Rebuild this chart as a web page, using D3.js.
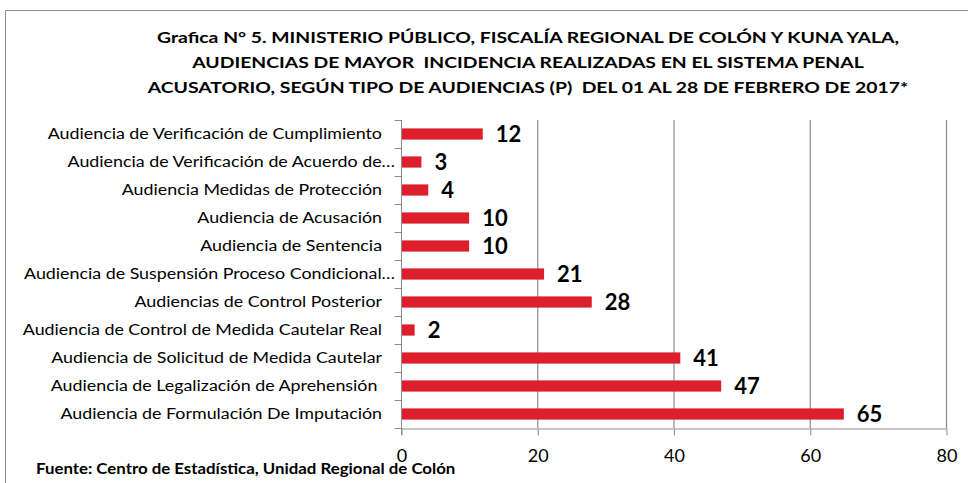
<!DOCTYPE html>
<html><head><meta charset="utf-8">
<script src="https://cdn.jsdelivr.net/npm/d3@7"></script>
<style>body{margin:0;background:#fff}svg{display:block}</style>
</head><body>
<svg id="c" width="968" height="483"></svg>
<script>
const categories = [
  "Audiencia de Verificación de Cumplimiento",
  "Audiencia de Verificación de Acuerdo de…",
  "Audiencia Medidas de Protección",
  "Audiencia de Acusación",
  "Audiencia de Sentencia",
  "Audiencia de Suspensión Proceso Condicional…",
  "Audiencias de Control Posterior",
  "Audiencia de Control de Medida Cautelar Real",
  "Audiencia de Solicitud de Medida Cautelar",
  "Audiencia de Legalización de Aprehensión ",
  "Audiencia de Formulación De Imputación"
];
const values = [12, 3, 4, 10, 10, 21, 28, 2, 41, 47, 65];
const xTicks = [0, 20, 40, 60, 80];
const titleLines = [
  "Grafica N° 5. MINISTERIO PÚBLICO, FISCALÍA REGIONAL DE COLÓN Y KUNA YALA,",
  "AUDIENCIAS DE MAYOR  INCIDENCIA REALIZADAS EN EL SISTEMA PENAL",
  "ACUSATORIO, SEGÚN TIPO DE AUDIENCIAS (P)  DEL 01 AL 28 DE FEBRERO DE 2017*"
];
const footer = "Fuente: Centro de Estadística, Unidad Regional de Colón";

const FONT = "Lato, 'Open Sans', sans-serif";
const svg = d3.select("#c");
const pLeft = 401, pRight = 946, pTop = 120, pBottom = 428;

// widen text horizontally to mimic the reference face's proportions
function stretch(sel, f) {
  sel.each(function () {
    const w = this.getComputedTextLength();
    d3.select(this).attr("textLength", w * f).attr("lengthAdjust", "spacingAndGlyphs");
  });
}

// outer border
svg.append("path").attr("d", "M5.5,490 V10.5 H980").attr("fill", "none").attr("stroke", "#8c8c8c").attr("stroke-width", 1);

const x = d3.scaleLinear().domain([0, 80]).range([pLeft, pRight]);
const y = d3.scaleBand().domain(categories).range([pTop, pBottom]).paddingInner(0.6).paddingOuter(0.3);
const yb = d3.scaleBand().domain(categories).range([pTop, pBottom]);

// grid lines
svg.append("g").selectAll("line").data(xTicks.slice(1)).join("line")
  .attr("x1", d => x(d) + 0.5).attr("x2", d => x(d) + 0.5)
  .attr("y1", pTop).attr("y2", pBottom)
  .attr("stroke", "#8c8c8c").attr("stroke-width", 1.2);

// x axis
const xa = svg.append("g").attr("transform", `translate(0.5,${pBottom + 0.5})`)
  .call(d3.axisBottom(x).tickValues(xTicks).tickSize(7).tickSizeOuter(0).tickPadding(14));
xa.select(".domain").attr("stroke", "#8c8c8c");
xa.selectAll(".tick line").attr("stroke", "#8c8c8c");
xa.selectAll("text").attr("font-family", FONT).attr("font-size", 18).attr("fill", "#000");

// y axis
const ya = svg.append("g").attr("transform", `translate(${pLeft + 0.5},0)`);
ya.append("line").attr("x1", 0).attr("x2", 0).attr("y1", pTop).attr("y2", pBottom + 7).attr("stroke", "#8c8c8c");
ya.selectAll("line.t").data(categories.concat([null])).join("line").attr("class", "t")
  .attr("x1", -7).attr("x2", 0)
  .attr("y1", (d, i) => (i < categories.length ? yb(d) : pBottom) + 0.5)
  .attr("y2", (d, i) => (i < categories.length ? yb(d) : pBottom) + 0.5)
  .attr("stroke", "#8c8c8c");

// category labels
const cl = svg.append("g").selectAll("text").data(categories).join("text")
  .attr("x", d => d.endsWith("…") ? 395 : 382)
  .attr("y", d => yb(d) + yb.bandwidth() / 2)
  .attr("dy", "0.35em").attr("text-anchor", "end")
  .attr("font-family", FONT).attr("font-size", 15.5).attr("fill", "#000")
  .style("white-space", "pre")
  .text(d => d);
stretch(cl, 1.15);

// bars
svg.append("g").selectAll("rect").data(values).join("rect")
  .attr("x", pLeft + 1)
  .attr("y", (d, i) => y(categories[i]))
  .attr("width", d => x(d) - pLeft - 1)
  .attr("height", y.bandwidth())
  .attr("fill", "#dc1f2a");

// value labels
svg.append("g").selectAll("text").data(values).join("text")
  .attr("x", d => x(d) + 13)
  .attr("y", (d, i) => yb(categories[i]) + yb.bandwidth() / 2 + 0.5)
  .attr("dy", "0.36em")
  .attr("font-family", FONT).attr("font-weight", "bold").attr("font-size", 22).attr("fill", "#000")
  .text(d => d);

// title
const tt = svg.append("g").selectAll("text").data(titleLines).join("text")
  .attr("x", 528).attr("y", (d, i) => 37 + i * 25).attr("dy", "0.35em")
  .attr("text-anchor", "middle")
  .attr("font-family", FONT).attr("font-weight", "bold").attr("font-size", 16).attr("fill", "#000")
  .style("white-space", "pre")
  .text(d => d);
stretch(tt, 1.21);

// footer
const ft = svg.append("text").attr("x", 36).attr("y", 469).attr("dy", "0.35em")
  .attr("font-family", FONT).attr("font-weight", "bold").attr("font-size", 14.5).attr("fill", "#000")
  .text(footer);
stretch(ft, 1.16);
</script>
</body></html>
